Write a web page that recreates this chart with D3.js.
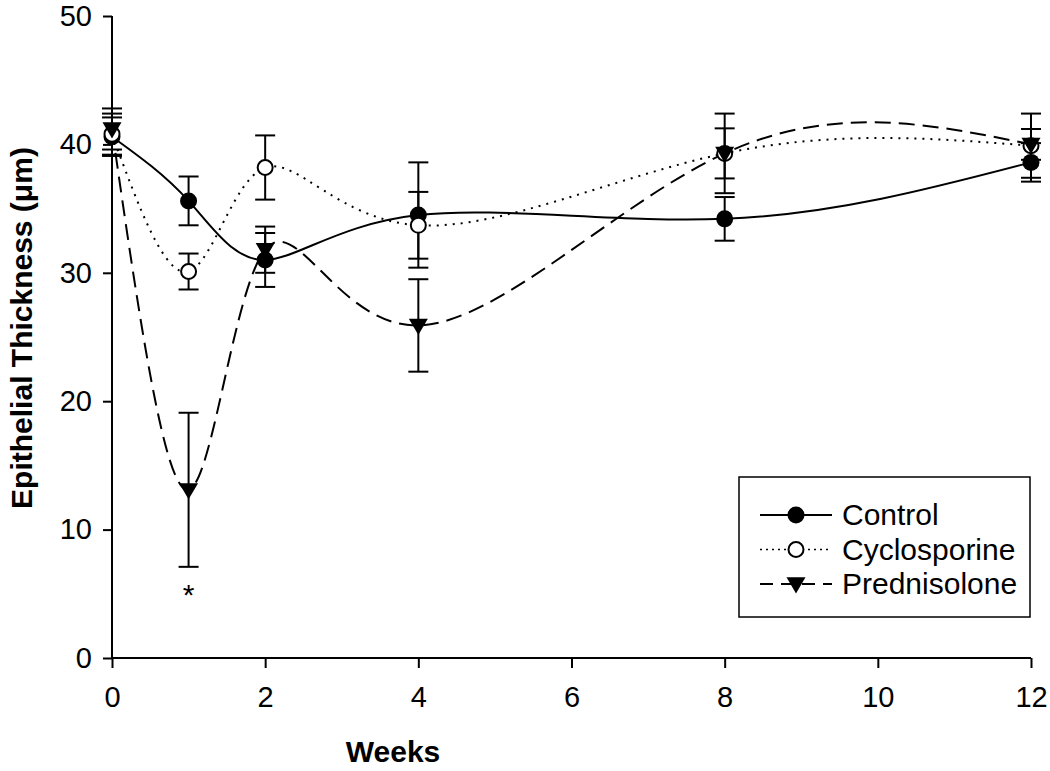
<!DOCTYPE html>
<html>
<head>
<meta charset="utf-8">
<script src="https://cdn.jsdelivr.net/npm/d3@7"></script>
<style>
  body { margin: 0; background: #fff; }
  svg { display: block; font-family: "Liberation Sans", Arial, sans-serif; }
</style>
</head>
<body>
<svg id="chart" width="1050" height="771"></svg>
<script>
const weeks = [0, 1, 2, 4, 8, 12];
const controlMean = [40.6, 35.6, 31.0, 34.5, 34.2, 38.6];
const controlErr  = [1.5, 1.9, 2.1, 4.1, 1.7, 1.5];
const cycloMean   = [40.8, 30.1, 38.2, 33.7, 39.3, 39.9];
const cycloErr    = [1.6, 1.4, 2.5, 2.6, 3.1, 2.5];
const predMean    = [41.2, 13.1, 31.8, 25.9, 39.3, 40.0];
const predErr     = [1.6, 6.0, 1.8, 3.6, 1.95, 1.2];
const seriesNames = ["Control", "Cyclosporine", "Prednisolone"];
const xTicks = [0, 2, 4, 6, 8, 10, 12];
const yTicks = [0, 10, 20, 30, 40, 50];

const svg = d3.select("#chart");
const mLeft = 112, mRight = 1031, mTop = 16, mBottom = 658;
const x = d3.scaleLinear().domain([0, 12]).range([mLeft, mRight]);
const y = d3.scaleLinear().domain([0, 50]).range([mBottom, mTop]);

const series = [
  { name: seriesNames[0], mean: controlMean, err: controlErr, dash: null, marker: "filled" },
  { name: seriesNames[1], mean: cycloMean, err: cycloErr, dash: "2,6", marker: "open" },
  { name: seriesNames[2], mean: predMean, err: predErr, dash: "16,8", marker: "tri" }
];

// axes
const xAxis = d3.axisBottom(x).tickValues(xTicks).tickSize(10).tickPadding(18).tickFormat(d3.format("d"));
const yAxis = d3.axisLeft(y).tickValues(yTicks).tickSize(9).tickPadding(11).tickFormat(d3.format("d"));
const gx = svg.append("g").attr("transform", `translate(0,${mBottom})`).call(xAxis);
const gy = svg.append("g").attr("transform", `translate(${mLeft},0)`).call(yAxis);
[gx, gy].forEach(g => {
  g.select(".domain").attr("stroke", "#000").attr("stroke-width", 2);
  g.selectAll(".tick line").attr("stroke", "#000").attr("stroke-width", 2);
  g.selectAll(".tick text").attr("fill", "#000").style("font-size", "29px").style("font-family", "Liberation Sans, Arial, sans-serif");
});
gx.select(".domain").attr("d", `M${mLeft},0H${mRight}`);
gy.select(".domain").attr("d", `M0,${mBottom}V${mTop}`);

// axis titles
svg.append("text").attr("x", 393).attr("y", 762).attr("text-anchor", "middle")
  .style("font-size", "30px").style("font-weight", "bold").text("Weeks");
svg.append("text").attr("transform", "translate(32,328) rotate(-90)").attr("text-anchor", "middle")
  .style("font-size", "30px").style("font-weight", "bold").text("Epithelial Thickness (μm)");

// lines
const line = d3.line().x((d) => x(d[0])).y((d) => y(d[1])).curve(d3.curveNatural);
series.forEach(s => {
  const pts = weeks.map((w, i) => [w, s.mean[i]]);
  svg.append("path").attr("d", line(pts)).attr("fill", "none").attr("stroke", "#000")
    .attr("stroke-width", 2).attr("stroke-dasharray", s.dash);
});

// error bars
const cap = 10;
series.forEach(s => {
  weeks.forEach((w, i) => {
    const cx = x(w), y1 = y(s.mean[i] + s.err[i]), y2 = y(s.mean[i] - s.err[i]);
    const g = svg.append("g").attr("stroke", "#000").attr("stroke-width", 2);
    g.append("line").attr("x1", cx).attr("x2", cx).attr("y1", y1).attr("y2", y2);
    g.append("line").attr("x1", cx - cap).attr("x2", cx + cap).attr("y1", y1).attr("y2", y1);
    g.append("line").attr("x1", cx - cap).attr("x2", cx + cap).attr("y1", y2).attr("y2", y2);
  });
});

function drawMarker(g, type, cx, cy) {
  if (type === "filled") {
    g.append("circle").attr("cx", cx).attr("cy", cy).attr("r", 8.5).attr("fill", "#000");
  } else if (type === "open") {
    g.append("circle").attr("cx", cx).attr("cy", cy).attr("r", 7.5).attr("fill", "#fff").attr("stroke", "#000").attr("stroke-width", 2);
  } else {
    const r = 9.5;
    g.append("path").attr("d", `M${cx - r},${cy - r * 0.7}L${cx + r},${cy - r * 0.7}L${cx},${cy + r * 1.0}Z`).attr("fill", "#000");
  }
}

// markers
series.forEach(s => {
  const g = svg.append("g");
  weeks.forEach((w, i) => drawMarker(g, s.marker, x(w), y(s.mean[i])));
});

// asterisk
svg.append("text").attr("x", x(1)).attr("y", 605).attr("text-anchor", "middle")
  .style("font-size", "30px").text("*");

// legend
const lg = svg.append("g");
lg.append("rect").attr("x", 739).attr("y", 477).attr("width", 291).attr("height", 140)
  .attr("fill", "#fff").attr("stroke", "#000").attr("stroke-width", 1.5);
series.forEach((s, i) => {
  const ly = 515 + i * 34.5;
  lg.append("line").attr("x1", 760).attr("x2", 832).attr("y1", ly).attr("y2", ly)
    .attr("stroke", "#000").attr("stroke-width", s.dash === "2,6" ? 1.5 : 2)
    .attr("stroke-dasharray", s.dash === "2,6" ? "2,4" : (s.dash ? "13,8" : null));
  drawMarker(lg, s.marker, 796, ly);
  lg.append("text").attr("x", 842).attr("y", ly + 10).style("font-size", "30px").text(s.name);
});
</script>
</body>
</html>
